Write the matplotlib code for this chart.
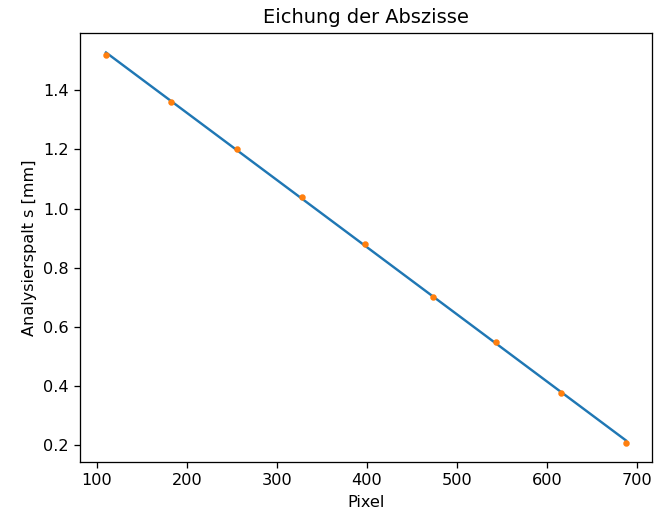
import numpy as np
import matplotlib
matplotlib.use("Agg")
import matplotlib.pyplot as plt

pixel = [110, 182, 256, 328, 398, 473, 543, 616, 688]
spalt = [1.518, 1.362, 1.202, 1.041, 0.881, 0.702, 0.550, 0.376, 0.209]

DPI = 116
fig = plt.figure(figsize=(655/DPI, 509/DPI), dpi=DPI)
ax = fig.add_axes([80/655, 1-462/509, (652-80)/655, (462-33)/509])

m, b = np.polyfit(pixel, spalt, 1)
xs = np.array([min(pixel), max(pixel)])
ax.plot(xs, m*xs + b)
ax.plot(pixel, spalt, '.')
ax.set_title("Eichung der Abszisse")
ax.set_xlabel("Pixel")
ax.set_ylabel("Analysierspalt s [mm]")
fig.savefig("out.png", dpi=DPI)
